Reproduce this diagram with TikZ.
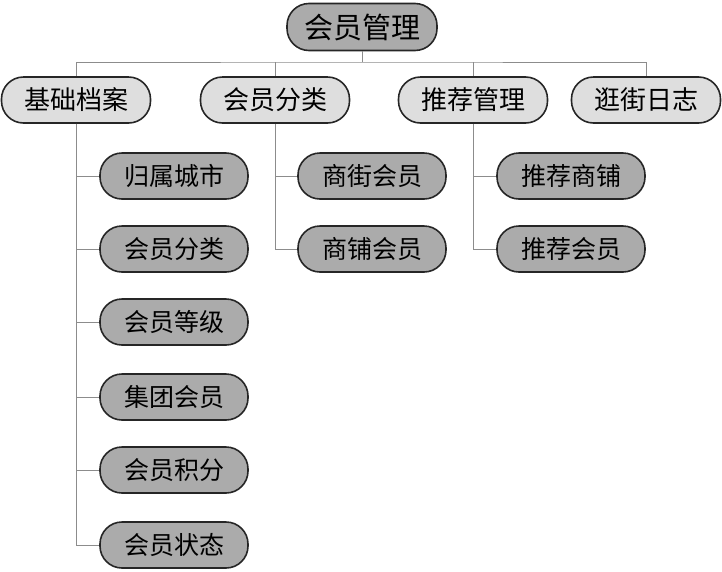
\documentclass[tikz,border=0pt]{standalone}
\usepackage{fontspec}
\setmainfont{Noto Sans CJK SC}
\begin{document}
\begin{tikzpicture}[x=1pt,y=-1pt,
  box/.style={draw=black!85,line width=1.6pt,rounded corners=22pt,minimum height=46pt,inner sep=0pt,font=\fontsize{25}{25}\selectfont},
  rootbox/.style={box,fill=black!33,minimum width=150pt,minimum height=47pt,font=\fontsize{29}{29}\selectfont},
  topbox/.style={box,fill=black!13,minimum width=149pt,font=\fontsize{26}{26}\selectfont},
  leafbox/.style={box,fill=black!33,minimum width=148pt,minimum height=46pt},
  conn/.style={draw=black!45,line width=1pt}]
\useasboundingbox (0,0) rectangle (722,571);
\node[rootbox] (root) at (362,27) {会员管理};
\node[topbox] (t1) at (76,100) {基础档案};
\node[topbox] (t2) at (275,100) {会员分类};
\node[topbox] (t3) at (473,100) {推荐管理};
\node[topbox] (t4) at (646,100) {逛街日志};
\coordinate (bus) at (362,62);
\draw[conn] (root.south) -- (bus);
\draw[conn] (t1.north) |- (bus) -| (t4.north);
\draw[conn] (t2.north) -- (t2.north |- bus);
\draw[conn] (t3.north) -- (t3.north |- bus);
\node[leafbox] (a1) at (174,176) {归属城市};
\node[leafbox] (a2) at (174,249) {会员分类};
\node[leafbox] (a3) at (174,322) {会员等级};
\node[leafbox] (a4) at (174,397) {集团会员};
\node[leafbox] (a5) at (174,470) {会员积分};
\node[leafbox] (a6) at (174,545) {会员状态};
\node[leafbox] (b1) at (372,176) {商街会员};
\node[leafbox] (b2) at (372,249) {商铺会员};
\node[leafbox] (c1) at (571,176) {推荐商铺};
\node[leafbox] (c2) at (571,249) {推荐会员};
\foreach \n in {a1,a2,a3,a4,a5,a6} \draw[conn] (t1.south) |- (\n.west);
\foreach \n in {b1,b2} \draw[conn] (t2.south) |- (\n.west);
\foreach \n in {c1,c2} \draw[conn] (t3.south) |- (\n.west);
\end{tikzpicture}
\end{document}
